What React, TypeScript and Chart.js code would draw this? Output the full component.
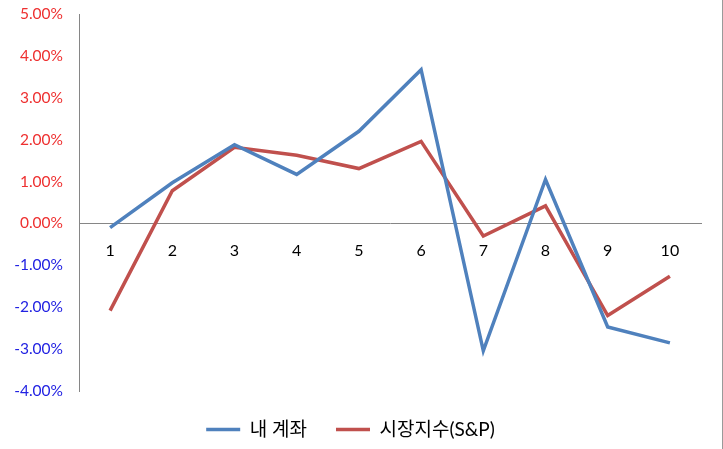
import React, { useEffect, useRef } from "react";
import { Chart, registerables } from "chart.js";

Chart.register(...registerables);

const categories = ["1", "2", "3", "4", "5", "6", "7", "8", "9", "10"];
const myAccount = [-0.1, 0.97, 1.88, 1.17, 2.2, 3.67, -3.04, 1.05, -2.47, -2.85];
const marketIndex = [-2.08, 0.78, 1.82, 1.63, 1.31, 1.96, -0.3, 0.42, -2.2, -1.26];
const seriesNames = ["내 계좌", "시장지수(S&P)"];
const yMin = -4;
const yMax = 5;

const FONT = "Lato, 'Noto Sans CJK KR', sans-serif";

export default function App() {
  const ref = useRef<HTMLCanvasElement | null>(null);
  useEffect(() => {
    document.body.style.margin = "0";
    const canvas = ref.current;
    if (!canvas) return;
    const chart = new Chart(canvas, {
      type: "line",
      data: {
        labels: categories,
        datasets: [
          {
            label: seriesNames[0],
            data: myAccount,
            borderColor: "#4F81BD",
            backgroundColor: "#4F81BD",
            borderWidth: 3.5,
            pointRadius: 0,
            tension: 0,
          },
          {
            label: seriesNames[1],
            data: marketIndex,
            borderColor: "#C0504D",
            backgroundColor: "#C0504D",
            borderWidth: 3.5,
            pointRadius: 0,
            tension: 0,
          },
        ],
      },
      options: {
        animation: false,
        responsive: false,
        maintainAspectRatio: false,
        layout: { padding: { top: 14, right: 22, bottom: 0, left: 0 } },
        plugins: {
          tooltip: { enabled: false },
          legend: {
            position: "bottom",
            labels: {
              usePointStyle: true,
              pointStyle: "line",
              pointStyleWidth: 34,
              boxWidth: 34,
              padding: 29,
              color: "#000",
              font: { family: FONT, size: 19 },
            },
          },
        },
        scales: {
          x: {
            position: { y: 0 } as any,
            offset: true,
            grid: { display: false, drawTicks: false },
            border: { display: true, color: "#868686", width: 1 },
            ticks: {
              color: "#000",
              padding: 18,
              font: { family: FONT, size: 16 },
              maxRotation: 0,
            },
          },
          y: {
            min: yMin,
            max: yMax,
            grid: { display: false, drawTicks: false },
            border: { display: true, color: "#868686", width: 1 },
            afterFit: (scale: any) => {
              scale.width = 79;
              scale.paddingTop = 0;
              scale.paddingBottom = 0;
            },
            ticks: {
              stepSize: 1,
              padding: 16,
              font: { family: FONT, size: 15.5 },
              color: (ctx: any) => (ctx.tick.value >= 0 ? "#EE3030" : "#2222E2"),
              callback: (v: any) => Number(v).toFixed(2) + "%",
            },
          },
        },
      },
    });
    return () => chart.destroy();
  }, []);
  return (
    <div style={{ width: 723, height: 449, position: "relative", background: "#fff" }}>
      <canvas ref={ref} width={723} height={449} style={{ display: "block" }} />
      <div
        style={{
          position: "absolute",
          right: 0,
          top: 0,
          width: 1,
          height: 449,
          background: "#9a9a9a",
        }}
      />
    </div>
  );
}
